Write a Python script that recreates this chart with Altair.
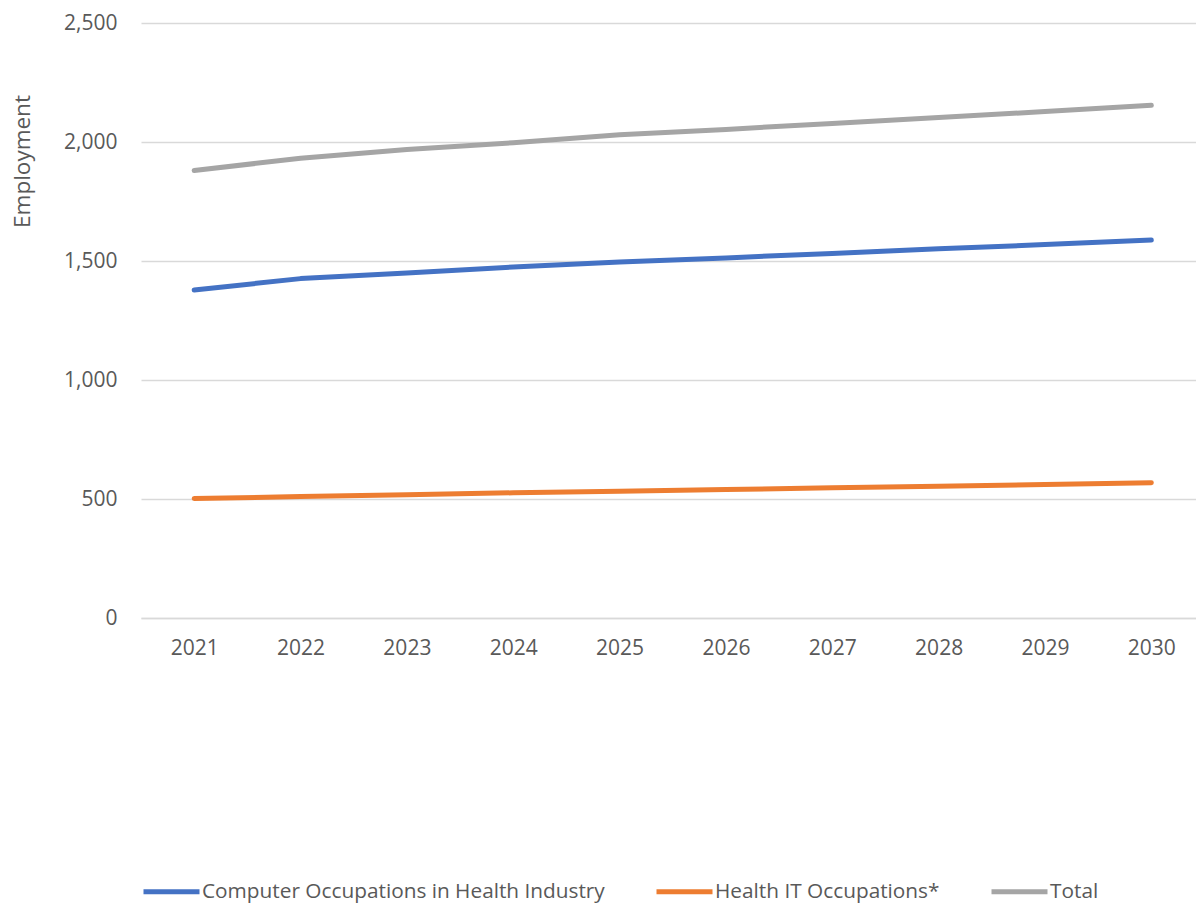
import altair as alt
import pandas as pd

years = [2021, 2022, 2023, 2024, 2025, 2026, 2027, 2028, 2029, 2030]
computer_occ = [1378, 1426, 1450, 1475, 1496, 1513, 1532, 1551, 1569, 1588]
health_it = [502, 510, 518, 526, 533, 540, 547, 554, 561, 568]
total = [1880, 1932, 1968, 1997, 2030, 2053, 2078, 2103, 2128, 2154]

series_names = ["Computer Occupations in Health Industry", "Health IT Occupations*", "Total"]
series_colors = ["#4472C4", "#ED7D31", "#A5A5A5"]
y_ticks = [0, 500, 1000, 1500, 2000, 2500]

rows = []
for name, vals in zip(series_names, [computer_occ, health_it, total]):
    for yr, v in zip(years, vals):
        rows.append({"Year": yr, "Employment": v, "Series": name})
df = pd.DataFrame(rows)

FONT = "Open Sans"
TXT = "#595959"

chart = (
    alt.Chart(df)
    .mark_line(strokeWidth=5, strokeCap="round", strokeJoin="round")
    .encode(
        x=alt.X(
            "Year:Q",
            scale=alt.Scale(domain=[2020.5, 2030.42], nice=False, zero=False),
            axis=alt.Axis(
                values=years,
                format="d",
                title=None,
                grid=False,
                ticks=False,
                domain=True,
                domainColor="#D9D9D9",
                domainWidth=1.5,
                labelPadding=19,
                labelFontSize=21,
                labelFont=FONT,
                labelColor=TXT,
            ),
        ),
        y=alt.Y(
            "Employment:Q",
            scale=alt.Scale(domain=[0, 2500], nice=False),
            axis=alt.Axis(
                values=y_ticks,
                format=",d",
                title="Employment",
                titleX=-119,
                titleY=138,
                titleAngle=-90,
                titleAlign="center",
                titleBaseline="middle",
                titleFont=FONT,
                titleFontSize=22.5,
                titleFontWeight="normal",
                titleColor=TXT,
                grid=True,
                gridColor="#D9D9D9",
                gridWidth=1.5,
                domain=False,
                ticks=False,
                labelPadding=24,
                labelFontSize=21,
                labelFont=FONT,
                labelColor=TXT,
            ),
        ),
        color=alt.Color(
            "Series:N",
            scale=alt.Scale(domain=series_names, range=series_colors),
            legend=alt.Legend(
                title=None,
                orient="none",
                legendX=0,
                legendY=838,
                direction="horizontal",
                columns=3,
                symbolType="stroke",
                symbolSize=3136,
                symbolStrokeWidth=5,
                labelFont=FONT,
                labelFontSize=20.8,
                labelColor=TXT,
                labelOffset=0,
                columnPadding=41,
                labelLimit=600,
            ),
        ),
    )
    .properties(
        width=1055,
        height=595,
        background="white",
        autosize=alt.AutoSizeParams(type="none"),
        padding={"left": 141, "top": 23, "right": 0, "bottom": 285},
    )
    .configure_view(stroke=None, strokeWidth=0)
)

chart.save("out.html", embed_options={"renderer": "svg", "actions": False})
